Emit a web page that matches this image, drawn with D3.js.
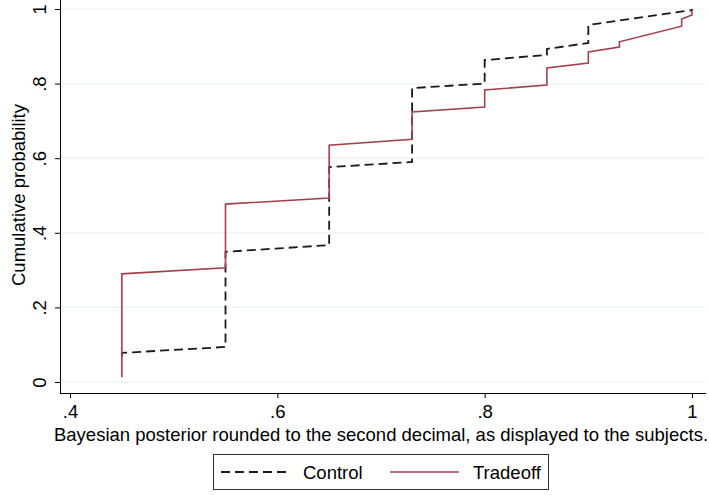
<!DOCTYPE html>
<html>
<head>
<meta charset="utf-8">
<script src="https://cdn.jsdelivr.net/npm/d3@7"></script>
<style>
  body { margin: 0; background: #fff; }
  svg { font-family: Arial, "Liberation Sans", sans-serif; }
</style>
</head>
<body>
<div class="cdfChart"></div>
<script>
// values
var controlX    = [0.45, 0.55, 0.65, 0.73, 0.80, 0.86, 0.90, 1.00];
var controlLow  = [0.068, 0.094, 0.367, 0.590, 0.800, 0.877, 0.909, 0.997];
var controlHigh = [0.078, 0.349, 0.576, 0.788, 0.863, 0.893, 0.957, 1.000];

var tradeoffX    = [0.45, 0.55, 0.65, 0.73, 0.80, 0.86, 0.90, 0.93, 0.99, 1.00];
var tradeoffLow  = [0.013, 0.306, 0.493, 0.651, 0.737, 0.796, 0.855, 0.898, 0.954, 0.984];
var tradeoffHigh = [0.290, 0.477, 0.635, 0.724, 0.783, 0.842, 0.885, 0.912, 0.973, 0.997];

var xTicks = [0.4, 0.6, 0.8, 1];
var yTicks = [0, 0.2, 0.4, 0.6, 0.8, 1];

function init() {
  var w = 709;
  var h = 495;
  var fs = "18.5px";

  var xScale = d3.scaleLinear().domain([0.4, 1]).range([70, 692]);
  var yScale = d3.scaleLinear().domain([0, 1]).range([382, 9]);

  var fmt = function(d) { return d === 0 ? "0" : d === 1 ? "1" : String(d).replace(/^0/, ""); };

  var svg = d3.select(".cdfChart")
    .append("svg")
    .attr("width", w)
    .attr("height", h);

  // gridlines
  svg.selectAll(".grid")
    .data(yTicks)
    .enter()
    .append("line")
    .attr("x1", 61)
    .attr("x2", 705)
    .attr("y1", function(d) { return yScale(d); })
    .attr("y2", function(d) { return yScale(d); })
    .attr("stroke", "#eaf2f3")
    .attr("stroke-width", 1.2);

  // build the path points: vertical at each x, then line to the next x
  function stepPoints(xs, lo, hi) {
    var pts = [];
    for (var i = 0; i < xs.length; i++) {
      pts.push([xs[i], lo[i]]);
      pts.push([xs[i], hi[i]]);
    }
    return pts;
  }

  var line = d3.line()
    .x(function(d) { return xScale(d[0]); })
    .y(function(d) { return yScale(d[1]); });

  svg.append("path")
    .datum(stepPoints(controlX, controlLow, controlHigh))
    .attr("fill", "none")
    .attr("stroke", "#1a1a1a")
    .attr("stroke-width", 1.8)
    .attr("stroke-dasharray", "9 5")
    .attr("d", line);

  svg.append("path")
    .datum(stepPoints(tradeoffX, tradeoffLow, tradeoffHigh))
    .attr("fill", "none")
    .attr("stroke", "#a3414b")
    .attr("stroke-width", 1.6)
    .attr("d", line);

  // axes
  var xAxis = d3.axisBottom(xScale).tickValues(xTicks).tickSize(5).tickSizeOuter(0).tickFormat(fmt);
  var yAxis = d3.axisLeft(yScale).tickValues(yTicks).tickSize(5).tickSizeOuter(0).tickFormat(fmt);

  var gx = svg.append("g")
    .attr("transform", "translate(0,393)")
    .call(xAxis);
  gx.select(".domain").attr("d", "M60,0.5H706").attr("stroke", "#000");
  gx.selectAll(".tick line").attr("stroke", "#000");
  gx.selectAll(".tick text")
    .attr("y", 12)
    .attr("dy", "0.71em")
    .style("font-size", fs)
    .attr("fill", "#000");

  var gy = svg.append("g")
    .attr("transform", "translate(60,0)")
    .call(yAxis);
  gy.select(".domain").attr("d", "M0.5,0V393").attr("stroke", "#000");
  gy.selectAll(".tick line").attr("stroke", "#000");
  gy.selectAll(".tick text")
    .attr("x", 0)
    .attr("dy", 0)
    .attr("transform", "translate(-14,0) rotate(-90)")
    .attr("text-anchor", "middle")
    .style("font-size", fs)
    .attr("fill", "#000");

  // axis titles
  svg.append("text")
    .attr("x", 381)
    .attr("y", 441)
    .attr("text-anchor", "middle")
    .style("font-size", fs)
    .text("Bayesian posterior rounded to the second decimal, as displayed to the subjects.");

  svg.append("text")
    .attr("transform", "translate(25,195) rotate(-90)")
    .attr("text-anchor", "middle")
    .style("font-size", fs)
    .text("Cumulative probability");

  // legend
  var legend = svg.append("g");
  legend.append("rect")
    .attr("x", 213.5)
    .attr("y", 454.5)
    .attr("width", 335)
    .attr("height", 35)
    .attr("fill", "#fff")
    .attr("stroke", "#333")
    .attr("stroke-width", 1);

  legend.append("line")
    .attr("x1", 221).attr("x2", 291)
    .attr("y1", 472).attr("y2", 472)
    .attr("stroke", "#1a1a1a")
    .attr("stroke-width", 1.8)
    .attr("stroke-dasharray", "9 5");
  legend.append("text")
    .attr("x", 303).attr("y", 478.5)
    .style("font-size", fs)
    .text("Control");

  legend.append("line")
    .attr("x1", 390).attr("x2", 459)
    .attr("y1", 472).attr("y2", 472)
    .attr("stroke", "#a3414b")
    .attr("stroke-width", 1.6);
  legend.append("text")
    .attr("x", 473).attr("y", 478.5)
    .style("font-size", fs)
    .text("Tradeoff");
}
window.onload = init;
</script>
</body>
</html>
